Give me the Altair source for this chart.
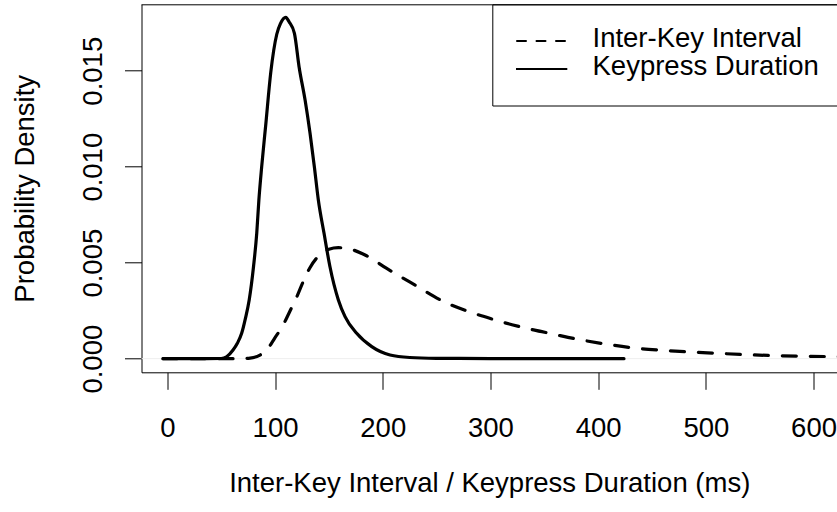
import altair as alt
import pandas as pd

# Keypress duration density (solid)
kd_x = [-4, 30, 50, 55, 61, 65, 69, 72.5, 76, 80, 83, 85, 87.6, 91.4, 96, 101.6, 105, 110, 113,
        118, 122.3, 127.9, 132.5, 136.5, 140.2, 145.5, 151, 158.8, 165, 175.8, 189.8, 206.8,
        225, 250, 300, 350, 424]
kd_y = [0, 0, 0.00001, 0.0001, 0.00045, 0.0008, 0.00132, 0.0021, 0.00306, 0.00479, 0.00653,
        0.00827, 0.0100, 0.0122, 0.0149, 0.0169, 0.01745, 0.01778, 0.01755, 0.01695, 0.01521,
        0.01347, 0.01174, 0.0100, 0.00827, 0.00653, 0.00479, 0.00306, 0.00219, 0.00132,
        0.000625, 0.00019, 0.00006, 0.00002, 0.000005, 0, 0]

# Inter-key interval density (dashed)
ik_x = [-4, 40, 65, 76.8, 86, 93, 100, 107, 114, 120, 126, 132, 138, 144.5, 150, 158.8, 168,
        185, 203.7, 231.6, 256.3, 280, 300, 320, 340, 360, 372, 388, 406, 433, 459, 485, 511,
        537, 564, 590, 615, 650]
ik_y = [0, 0, 0, 0.00003, 0.00019, 0.0005, 0.0011, 0.0017, 0.0025, 0.0032, 0.0040, 0.0047,
        0.0052, 0.0055, 0.0057, 0.00578, 0.00573, 0.00536, 0.0047, 0.00378, 0.00298, 0.00245,
        0.00209, 0.00177, 0.0015, 0.00126, 0.00111, 0.00094, 0.00077, 0.00056, 0.00044,
        0.00035, 0.00028, 0.00021, 0.00016, 0.00013, 0.00011, 0.00009]

x_ticks = [0, 100, 200, 300, 400, 500, 600]
y_ticks = [0.0, 0.005, 0.010, 0.015]
legend_labels = ["Inter-Key Interval", "Keypress Duration"]
x_title = "Inter-Key Interval / Keypress Duration (ms)"
y_title = "Probability Density"

FONT = "Liberation Sans"
FS = 27.5
W = 695.5
H = 368

df_kd = pd.DataFrame({"x": kd_x, "y": kd_y, "series": "kd"})
df_ik = pd.DataFrame({"x": ik_x, "y": ik_y, "series": "ik"})
df_kd["order"] = range(len(df_kd))
df_ik["order"] = range(len(df_ik))
df = pd.concat([df_kd, df_ik], ignore_index=True)

xscale = alt.Scale(domain=[-24, 621.8], nice=False, zero=False)
yscale = alt.Scale(domain=[-0.00071, 0.01846], nice=False, zero=False)

xaxis = alt.Axis(values=x_ticks, format="d", tickSize=17, tickColor="black", tickWidth=1,
                 domainColor="black", domainWidth=1, labelFont=FONT, labelFontSize=FS,
                 labelColor="black", labelPadding=25, labelFlush=False, labelOverlap=False,
                 grid=False, title=x_title, titleFont=FONT, titleFontSize=FS,
                 titleFontWeight="normal", titleColor="black", titleBaseline="alphabetic",
                 titleY=119.4)
yaxis = alt.Axis(values=y_ticks, format=".3f", tickSize=17, tickColor="black", tickWidth=1,
                 domainColor="black", domainWidth=1, labelFont=FONT, labelFontSize=FS,
                 labelColor="black", labelAngle=270, labelAlign="center",
                 labelBaseline="alphabetic", labelPadding=22.8, labelFlush=False,
                 labelOverlap=False, grid=False, title=y_title, titleFont=FONT,
                 titleFontSize=FS, titleFontWeight="normal", titleColor="black",
                 titleAngle=270, titleAlign="center", titleBaseline="alphabetic",
                 titleX=-108.2, titleY=184)

base = alt.Chart(df)

zero_line = alt.Chart(pd.DataFrame({"y": [0]})).mark_rule(color="#eeeeee", strokeWidth=1).encode(
    y=alt.Y("y:Q", scale=yscale, axis=yaxis)
)

solid = base.transform_filter(alt.datum.series == "kd").mark_line(
    color="black", strokeWidth=3.2, interpolate="monotone", clip=True, strokeCap="round",
    strokeJoin="round"
).encode(
    x=alt.X("x:Q", scale=xscale, axis=xaxis),
    y=alt.Y("y:Q", scale=yscale, axis=yaxis),
    order="order:Q",
)

dashed = base.transform_filter(alt.datum.series == "ik").mark_line(
    color="black", strokeWidth=3.2, interpolate="monotone", clip=True, strokeCap="round",
    strokeDash=[14, 14]
).encode(
    x=alt.X("x:Q", scale=xscale),
    y=alt.Y("y:Q", scale=yscale),
    order="order:Q",
)

top_border = alt.Chart(pd.DataFrame({"a": [0]})).mark_rule(color="black", strokeWidth=1).encode(
    x=alt.value(0), x2=alt.value(W + 5), y=alt.value(0.5)
)

legend_box = alt.Chart(pd.DataFrame({"a": [0]})).mark_rect(
    fill="white", stroke="black", strokeWidth=1
).encode(
    x=alt.value(351.3), x2=alt.value(W + 20), y=alt.value(0.5), y2=alt.value(101.7)
)

leg_dash = alt.Chart(pd.DataFrame({"a": [0]})).mark_rule(
    color="black", strokeWidth=2, strokeDash=[9, 10.5], strokeCap="round"
).encode(x=alt.value(375.5), x2=alt.value(425.5), y=alt.value(36.7))

leg_solid = alt.Chart(pd.DataFrame({"a": [0]})).mark_rule(
    color="black", strokeWidth=2
).encode(x=alt.value(374.5), x2=alt.value(425.8), y=alt.value(64.7))

leg_text1 = alt.Chart(pd.DataFrame({"a": [0]})).mark_text(
    align="left", baseline="alphabetic", font=FONT, fontSize=FS, color="black"
).encode(x=alt.value(451), y=alt.value(42.4), text=alt.value(legend_labels[0]))

leg_text2 = alt.Chart(pd.DataFrame({"a": [0]})).mark_text(
    align="left", baseline="alphabetic", font=FONT, fontSize=FS, color="black"
).encode(x=alt.value(451), y=alt.value(70.7), text=alt.value(legend_labels[1]))

chart = alt.layer(
    zero_line, solid, dashed, legend_box, top_border, leg_dash, leg_solid, leg_text1, leg_text2
).properties(
    width=W, height=H,
    padding={"left": 141.5, "top": 4.3, "right": 0, "bottom": 139.7},
    autosize="none",
    background="white",
).configure_view(stroke=None)

chart.save("out.html", embed_options={"renderer": "svg", "actions": False})
